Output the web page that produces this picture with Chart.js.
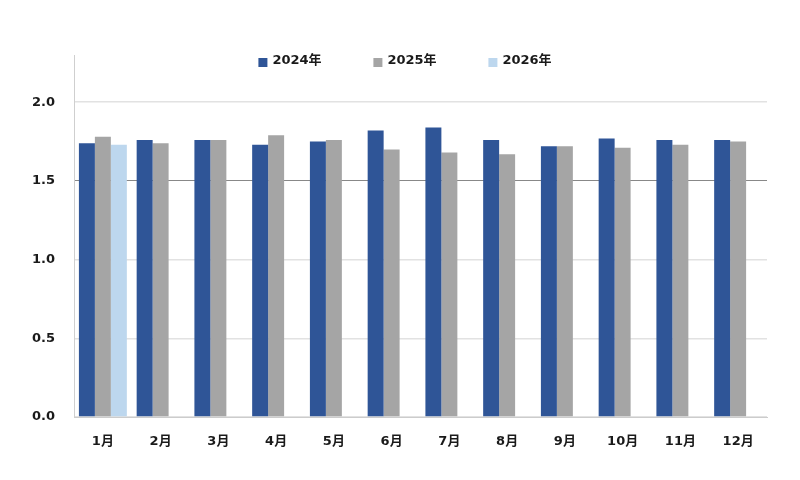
<!DOCTYPE html>
<html>
<head>
<meta charset="utf-8">
<script src="https://cdn.jsdelivr.net/npm/chart.js@4.4.0/dist/chart.umd.min.js"></script>
<style>
html, body { margin: 0; padding: 0; background: #fff; }
#wrap { width: 800px; height: 480px; }
</style>
</head>
<body>
<div id="wrap"><canvas id="chart" width="800" height="480"></canvas></div>
<script>
// data
var months = ['1月', '2月', '3月', '4月', '5月', '6月', '7月', '8月', '9月', '10月', '11月', '12月'];
var seriesNames = ['2024年', '2025年', '2026年'];
var data2024 = [1.74, 1.76, 1.76, 1.73, 1.75, 1.82, 1.84, 1.76, 1.72, 1.77, 1.76, 1.76];
var data2025 = [1.78, 1.74, 1.76, 1.79, 1.76, 1.70, 1.68, 1.67, 1.72, 1.71, 1.73, 1.75];
var data2026 = [1.73, null, null, null, null, null, null, null, null, null, null, null];
var yTicks = [0, 0.5, 1.0, 1.5, 2.0];

var colors = ['#2f5597', '#a5a5a5', '#bdd7ee'];
var fontFamily = '"DejaVu Sans", "Noto Sans CJK JP", sans-serif';

// legend drawn by hand so it can sit inside the top of the plot with wide spacing
var topLegend = {
    id: 'topLegend',
    afterDraw: function (chart) {
        var ctx = chart.ctx;
        var step = 115, box = 9, gap = 5;
        ctx.save();
        ctx.font = 'bold 13px ' + fontFamily;
        ctx.textBaseline = 'middle';
        var n = chart.data.datasets.length;
        var lastW = ctx.measureText(chart.data.datasets[n - 1].label).width;
        var total = step * (n - 1) + box + gap + lastW;
        var x0 = 405 - total / 2;
        chart.data.datasets.forEach(function (ds, i) {
            var x = x0 + i * step;
            ctx.fillStyle = ds.backgroundColor;
            ctx.fillRect(x, 58, box, box);
            ctx.fillStyle = '#1a1a1a';
            ctx.fillText(ds.label, x + box + gap, 61);
        });
        ctx.restore();
    }
};

var ctx = document.getElementById('chart');
var chart = new Chart(ctx, {
    type: 'bar',
    data: {
        labels: months,
        datasets: [
            { label: seriesNames[0], data: data2024, backgroundColor: colors[0] },
            { label: seriesNames[1], data: data2025, backgroundColor: colors[1] },
            { label: seriesNames[2], data: data2026, backgroundColor: colors[2] }
        ]
    },
    options: {
        responsive: false,
        animation: false,
        categoryPercentage: 0.83,
        barPercentage: 1.0,
        layout: { padding: { top: 55, right: 33, bottom: 0, left: 0 } },
        plugins: {
            legend: { display: false },
            tooltip: { enabled: false }
        },
        scales: {
            x: {
                grid: { display: false },
                border: { color: '#cccccc', width: 1 },
                ticks: {
                    color: '#1a1a1a',
                    padding: 9,
                    font: { family: fontFamily, size: 13, weight: 'bold' }
                },
                afterFit: function (scale) { scale.height = 63; }
            },
            y: {
                min: 0,
                max: 2.3,
                afterBuildTicks: function (scale) {
                    scale.ticks = yTicks.map(function (v) { return { value: v }; });
                },
                grid: {
                    drawTicks: false,
                    color: function (c) { return c.tick && c.tick.value === 1.5 ? '#888888' : '#e2e2e2'; },
                    lineWidth: function (c) { return c.tick && c.tick.value === 1.5 ? 1 : 1.5; }
                },
                border: { color: '#cfcfcf', width: 1 },
                ticks: {
                    color: '#1a1a1a',
                    padding: 19,
                    font: { family: fontFamily, size: 13, weight: 'bold' },
                    callback: function (v) { return Number(v).toFixed(1); }
                },
                afterFit: function (scale) { scale.width = 74; }
            }
        }
    },
    plugins: [topLegend]
});
</script>
</body>
</html>
